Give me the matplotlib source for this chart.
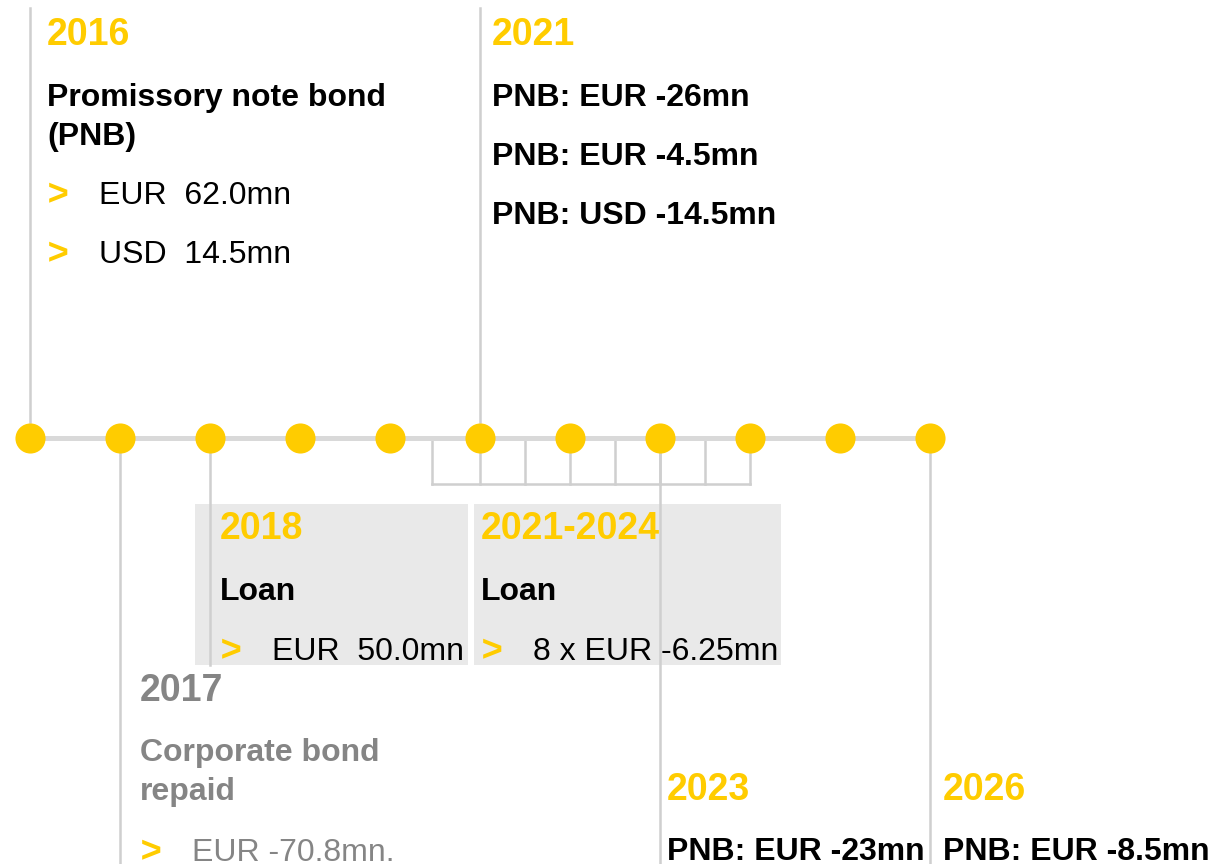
import matplotlib
matplotlib.use('Agg')
import matplotlib.pyplot as plt
import matplotlib.transforms as mtransforms
from matplotlib.patches import Rectangle

YELLOW = '#FFCC00'
LINE = '#d9d9d9'
STEM = '#cfcfcf'
GREY_TXT = '#858585'
BOX = '#e9e9e9'

# timeline years
anos = list(range(2016, 2027))
# half-year instalments of the 2021-2024 loan
cuotas = [2020.47, 2021.0, 2021.5, 2022.0, 2022.5, 2023.0, 2023.5, 2024.0]

# stems: year, y start, y end (pixels)
stems = [(2016, 8, 422), (2021, 8, 422), (2017, 440, 864),
         (2018, 440, 665), (2023, 440, 864), (2026, 440, 864)]

# grey boxes: x0 year, x1 year
cajas = [(2017.83, 2020.87), (2020.93, 2024.34)]

Y_LINE = 438

fig = plt.figure(figsize=(12.14, 8.64), dpi=100)
ax = fig.add_axes([0, 0, 1, 1])
ax.set_xlim(2016 - 30 / 90, 2016 + 1184 / 90)
ax.set_ylim(864, 0)
ax.axis('off')

for x0, x1 in cajas:
    ax.add_patch(Rectangle((x0, 504), x1 - x0, 161, color=BOX, lw=0, zorder=0))

for yr, y0, y1 in stems:
    ax.plot([yr, yr], [y0, y1], color=STEM, lw=1.8, zorder=1)

# bracket
ax.plot([cuotas[0], cuotas[-1]], [484, 484], color=STEM, lw=1.8, zorder=1)
for c in cuotas:
    ax.plot([c, c], [Y_LINE, 484], color=STEM, lw=1.8, zorder=1)

ax.plot([anos[0], anos[-1]], [Y_LINE, Y_LINE], color=LINE, lw=3.6, zorder=2)
ax.scatter(anos, [Y_LINE] * len(anos), s=470, color=YELLOW, lw=0, zorder=3)

FONT = 'Liberation Sans'
BIG = 27
BODY = 23


def txt(yr, dx, y, s, color='black', size=BODY, weight='bold', style='normal'):
    tr = mtransforms.offset_copy(ax.transData, fig=fig, x=dx, y=0, units='dots')
    ax.text(yr, y + 3, s, transform=tr, color=color, fontsize=size, style=style,
            fontweight=weight, family=FONT, va='center', ha='left')


def bullet(yr, dx, y, s, color='black'):
    txt(yr, dx, y, '>', color=YELLOW, size=26, weight='bold', style='italic')
    txt(yr, dx + 52, y, s, color=color, size=BODY, weight='normal')


# 2016
txt(2016, 17, 32, '2016', YELLOW, BIG)
txt(2016, 17, 95, 'Promissory note bond')
txt(2016, 17, 134, '(PNB)')
bullet(2016, 17, 193, 'EUR  62.0mn')
bullet(2016, 17, 252, 'USD  14.5mn')

# 2021
txt(2021, 12, 32, '2021', YELLOW, BIG)
txt(2021, 12, 95, 'PNB: EUR -26mn')
txt(2021, 12, 154, 'PNB: EUR -4.5mn')
txt(2021, 12, 213, 'PNB: USD -14.5mn')

# 2018
txt(2018, 10, 526, '2018', YELLOW, BIG)
txt(2018, 10, 589, 'Loan')
bullet(2018, 10, 649, 'EUR  50.0mn')

# 2021-2024
txt(2021, 1, 526, '2021-2024', YELLOW, BIG)
txt(2021, 1, 589, 'Loan')
bullet(2021, 1, 649, '8 x EUR -6.25mn')

# 2017
txt(2017, 20, 688, '2017', GREY_TXT, BIG)
txt(2017, 20, 750, 'Corporate bond', GREY_TXT)
txt(2017, 20, 789, 'repaid', GREY_TXT)
bullet(2017, 20, 850, 'EUR -70.8mn.', GREY_TXT)

# 2023
txt(2023, 7, 787, '2023', YELLOW, BIG)
txt(2023, 7, 849, 'PNB: EUR -23mn')

# 2026
txt(2026, 13, 787, '2026', YELLOW, BIG)
txt(2026, 13, 849, 'PNB: EUR -8.5mn')

fig.savefig('out.png', dpi=100)
